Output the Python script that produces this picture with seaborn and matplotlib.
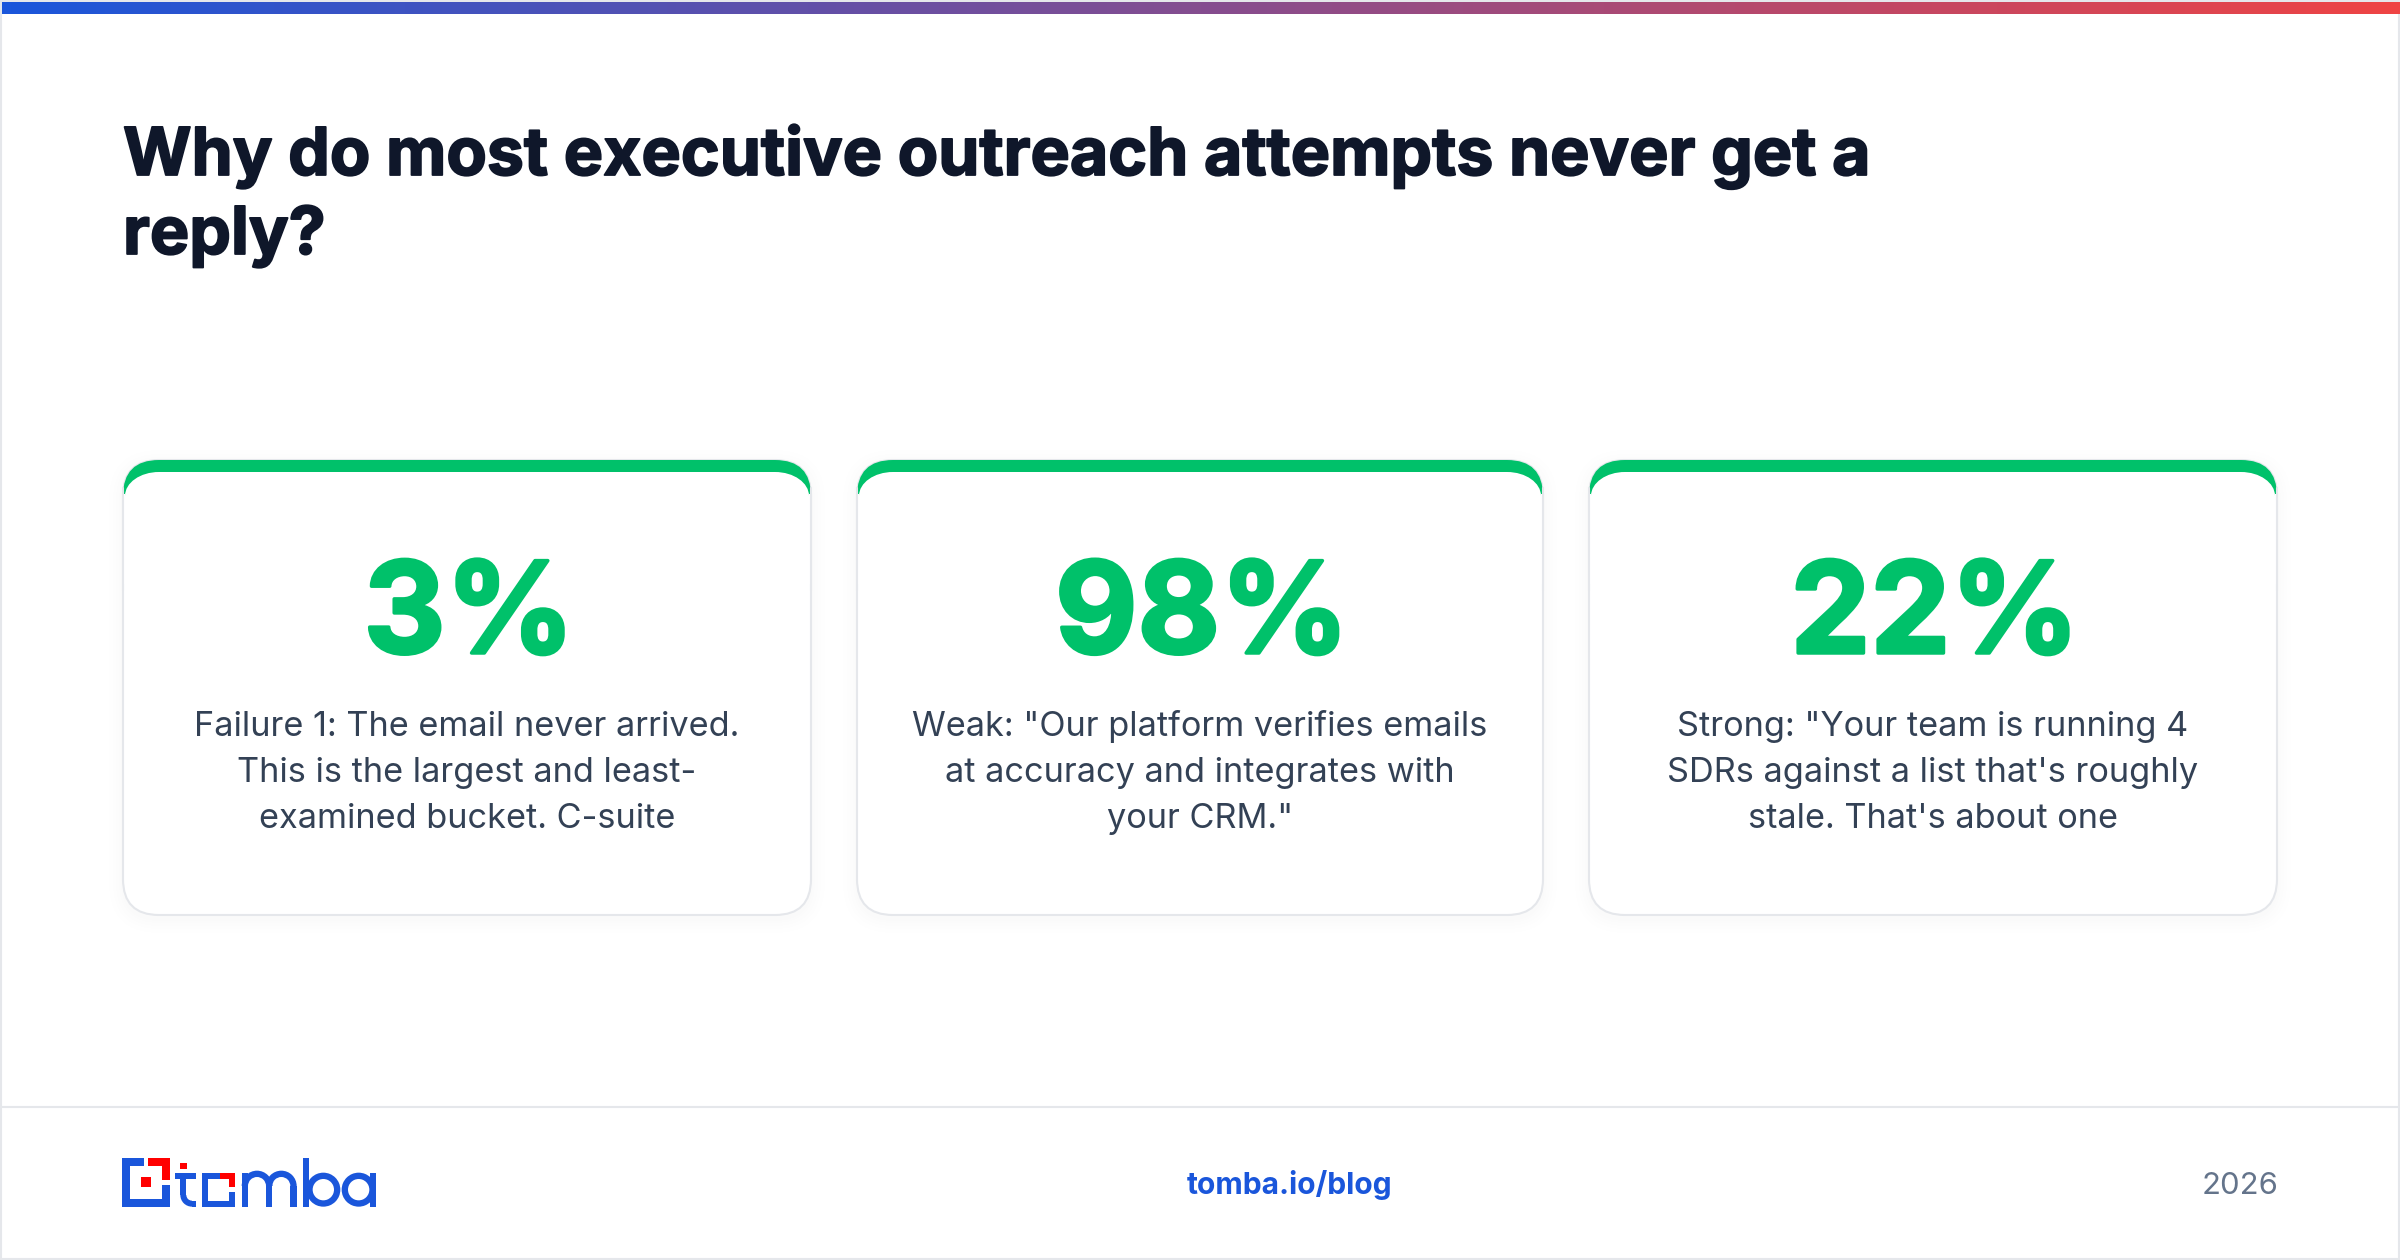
import matplotlib
matplotlib.use('Agg')
import matplotlib.pyplot as plt
import matplotlib.patheffects as pe
import numpy as np
import seaborn as sns
from matplotlib.patches import FancyBboxPatch, PathPatch, Rectangle, Wedge
from matplotlib.path import Path

title_lines = ['Why do most executive outreach attempts never get a', 'reply?']
stat_values = ['3%', '98%', '22%']
stat_captions = [
    ['Failure 1: The email never arrived.', 'This is the largest and least-', 'examined bucket. C-suite'],
    ['Weak: "Our platform verifies emails', 'at accuracy and integrates with', 'your CRM."'],
    ['Strong: "Your team is running 4', "SDRs against a list that's roughly", "stale. That's about one"],
]
footer_link = 'tomba.io/blog'
footer_year = '2026'

GREEN = '#00c16a'
BLUE = '#1a56db'
RED = '#ff0000'
INK = '#0f172a'
SLATE = '#334155'
EDGE = '#e5e7eb'

sns.set_theme(style='white')
plt.rcParams['font.family'] = ['Inter', 'DejaVu Sans']

fig = plt.figure(figsize=(24, 12.6), dpi=100)
ax = fig.add_axes([0, 0, 1, 1])
ax.axis('off')


def px(size):
    return size * 0.72


def heavy(width, color):
    # the installed bold is a bit light next to the reference
    return [pe.withStroke(linewidth=width, foreground=color)]


# frame and gradient strip
ax.add_patch(Rectangle((1, 1), 2398, 1258, fc='white', ec=EDGE, lw=1.5))
strip = sns.blend_palette(['#1a56db', '#ef4444'], n_colors=256, as_cmap=True)
ax.imshow(np.linspace(0, 1, 256)[None, :], cmap=strip, extent=(2, 2400, 14, 2), aspect='auto', zorder=2)

for line, base in zip(title_lines, [175, 254]):
    ax.text(123, base, line, fontsize=px(66.1), fontweight='bold', color=INK, va='baseline', ha='left',
            path_effects=heavy(1.3, INK))


def card_inner(x0, x1, y0, y1, bar=12, r=36):
    # white face under the green top edge, corners are flatter at the top
    rx, ry = r - 2, r - bar
    k = 0.5523
    top = y0 + bar
    verts = [
        (x0 + 2, y1 - r), (x0 + 2, top + ry),
        (x0 + 2, top + ry * (1 - k)), (x0 + 2 + rx * (1 - k), top), (x0 + 2 + rx, top),
        (x1 - 2 - rx, top),
        (x1 - 2 - rx * (1 - k), top), (x1 - 2, top + ry * (1 - k)), (x1 - 2, top + ry),
        (x1 - 2, y1 - r), (x0 + 2, y1 - r),
    ]
    codes = [Path.MOVETO, Path.LINETO, Path.CURVE4, Path.CURVE4, Path.CURVE4, Path.LINETO,
             Path.CURVE4, Path.CURVE4, Path.CURVE4, Path.LINETO, Path.CLOSEPOLY]
    return Path(verts, codes)


card_left = [123, 857, 1589]
card_right = [811, 1543, 2277]
card_top, card_bottom = 460, 915

for i, (x0, x1) in enumerate(zip(card_left, card_right)):
    w, h = x1 - x0, card_bottom - card_top
    # soft shadow
    for grow in [14, 10, 7, 4, 2]:
        ax.add_patch(FancyBboxPatch((x0 - grow, card_top + 4 - grow), w + 2 * grow, h + 2 * grow,
                                    boxstyle=f'round,pad=0,rounding_size={36 + grow}',
                                    fc='#0f172a', ec='none', alpha=0.004, zorder=3))
    ax.add_patch(FancyBboxPatch((x0, card_top), w, h, boxstyle='round,pad=0,rounding_size=36',
                                fc='white', ec=EDGE, lw=1.5, zorder=4))
    # green top edge, cut from the rounded card
    cap = FancyBboxPatch((x0, card_top), w, 110, boxstyle='round,pad=0,rounding_size=36',
                         fc=GREEN, ec='none', zorder=5)
    ax.add_patch(cap)
    ax.add_patch(PathPatch(card_inner(x0, x1, card_top, card_top + 130), fc='white', ec='none', zorder=6))
    ax.add_patch(Rectangle((x0 + 2, card_top + 60), w - 4, 60, fc='white', ec='none', zorder=6))
    ax.add_patch(Rectangle((x0 - 1, card_top + 34), 3, 90, fc='white', ec='none', zorder=5.5))
    ax.add_patch(Rectangle((x1 - 2, card_top + 34), 3, 90, fc='white', ec='none', zorder=5.5))
    ax.plot([x0, x0], [card_top + 28, card_top + 130], color=EDGE, lw=1.5, zorder=6)
    ax.plot([x1, x1], [card_top + 28, card_top + 130], color=EDGE, lw=1.5, zorder=6)

    cx = (x0 + x1) / 2
    ax.text(cx + 2, 653, stat_values[i], fontsize=px(127), fontweight='bold', color=GREEN,
            ha='center', va='baseline', zorder=7, path_effects=heavy(2.5, GREEN))
    for line, base in zip(stat_captions[i], [736, 782, 828]):
        ax.text(cx, base, line, fontsize=px(34.3), color=SLATE, ha='center', va='baseline', zorder=7)

# footer
ax.plot([0, 2400], [1107, 1107], color=EDGE, lw=1.5, zorder=2)
ax.text(1289.5, 1194, footer_link, fontsize=px(30), fontweight='bold', color=BLUE, ha='center', va='baseline')
ax.text(2278, 1194, footer_year, fontsize=px(31), color='#64748b', ha='right', va='baseline')


# logo, drawn in 3x crop units and mapped to the page
def lx(v):
    return 90 + v / 3


def ly(v):
    return 1130 + v / 3


def block(x0, y0, x1, y1, color=BLUE):
    ax.add_patch(Rectangle((lx(x0), ly(y0)), (x1 - x0) / 3, (y1 - y0) / 3, fc=color, ec='none', zorder=3))


def ring(cx, cy, r, t1=0, t2=360, thick=19):
    ax.add_patch(Wedge((lx(cx), ly(cy)), r / 3, t1, t2, width=thick / 3, fc=BLUE, ec='none', zorder=3))


# icon
block(96, 84, 120, 230)
block(96, 84, 162, 107)
block(96, 207, 240, 230)
block(216, 164, 240, 230)
block(174, 84, 240, 107, RED)
block(216, 84, 240, 150, RED)
block(153, 141, 183, 171, RED)
# t
block(270, 99, 291, 118, RED)
block(255, 129, 318, 146)
block(271, 129, 289, 195)
ring(306, 195, 35, 90, 180, 18)
block(306, 212, 318, 230)
# square o
block(335, 128, 353, 230)
block(335, 128, 390, 146)
block(335, 212, 436, 230)
block(418, 185, 436, 230)
block(390, 128, 436, 146, RED)
block(418, 128, 436, 172, RED)
# m
block(455, 128, 473, 230)
ring(501, 168, 46, 180, 360)
block(528, 168, 547, 230)
ring(574, 168, 46, 180, 360)
block(601, 168, 620, 230)
# b
block(638, 84, 656, 230)
ring(700, 179, 51)
# a
ring(806, 179, 51)
block(839, 128, 858, 230)

ax.set_xlim(0, 2400)
ax.set_ylim(1260, 0)
fig.savefig('out.png', dpi=100, facecolor='white')
